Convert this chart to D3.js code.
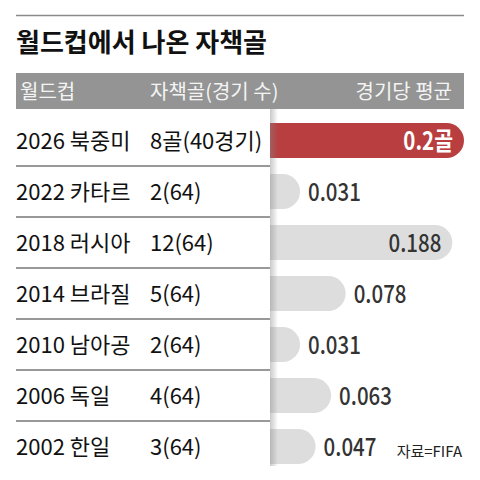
<!DOCTYPE html>
<html>
<head>
	<meta charset="utf-8">
	<title>월드컵에서 나온 자책골</title>
	<style>
		body { margin: 0; background: #fff; }
		svg { display: block; }
		.kr { font-family: 'Noto Sans CJK KR', sans-serif; }
	</style>
</head>
<body>
	<svg width="480" height="480"></svg>
<script src="https://d3js.org/d3.v7.min.js"></script>
<script>

	// data
	const cups = ['2026 북중미', '2022 카타르', '2018 러시아', '2014 브라질', '2010 남아공', '2006 독일', '2002 한일']
	const ownGoals = ['8골(40경기)', '2(64)', '12(64)', '5(64)', '2(64)', '4(64)', '3(64)']
	const perGame = [0.2, 0.031, 0.188, 0.078, 0.031, 0.063, 0.047]
	const valueLabels = ['0.2골', '0.031', '0.188', '0.078', '0.031', '0.063', '0.047']
	const headers = ['월드컵', '자책골(경기 수)', '경기당 평균']

	const left = 16, right = 464, barX = 270
	const barH = 35
	const squeeze = 0.82   // numbers in the original are narrow

	const svg = d3.select('svg')

	// shadow gradient for the table edge
	const grad = svg.append('defs').append('linearGradient')
		.attr('id', 'edge')
		.attr('x1', 0).attr('x2', 1).attr('y1', 0).attr('y2', 0)
	grad.append('stop').attr('offset', 0).attr('stop-color', '#888').attr('stop-opacity', 0.45)
	grad.append('stop').attr('offset', 1).attr('stop-color', '#888').attr('stop-opacity', 0)

	// top rule + title
	svg.append('line')
		.attr('x1', left).attr('x2', right)
		.attr('y1', 15.5).attr('y2', 15.5)
		.attr('stroke', '#8a8a8a').attr('stroke-width', 1.5)

	svg.append('text')
		.attr('class', 'kr')
		.attr('x', left).attr('y', 52)
		.attr('font-weight', 700)
		.attr('font-size', 26)
		.attr('fill', '#111')
		.text('월드컵에서 나온 자책골')

	// header band
	svg.append('rect')
		.attr('x', left).attr('y', 73)
		.attr('width', right - left).attr('height', 36)
		.attr('fill', '#939493')

	const hx = [left + 4, 150, right - 12]
	svg.selectAll('text.head')
		.data(headers)
		.join('text')
		.attr('class', 'head kr')
		.attr('x', (d, i) => hx[i])
		.attr('y', 99)
		.attr('text-anchor', (d, i) => i == 2 ? 'end' : 'start')
		.attr('font-size', 20)
		.attr('fill', '#f4f4f4')
		.text(d => d)

	// scales
	const y = d3.scaleBand()
		.domain(cups)
		.range([115, 115 + 51 * cups.length])

	const x = d3.scaleLinear()
		.domain([0, 0.2])
		.range([barX, right])

	const rows = svg.append('g')
		.selectAll('g')
		.data(cups)
		.join('g')
		.attr('transform', d => `translate(0, ${y(d) + y.bandwidth() / 2})`)

	// bars, flat at the left, round on the right
	rows.append('path')
		.attr('d', (d, i) => {
			let w = x(perGame[i]) - barX
			let r = Math.min(barH / 2, w)
			return `M${barX},${-barH / 2}H${barX + w - r}A${r},${barH / 2} 0 0 1 ${barX + w},0` +
				`A${r},${barH / 2} 0 0 1 ${barX + w - r},${barH / 2}H${barX}Z`
		})
		.attr('fill', (d, i) => i == 0 ? '#b83e40' : '#dcdddc')

	// separators between rows
	rows.filter((d, i) => i < cups.length - 1)
		.append('line')
		.attr('x1', left).attr('x2', barX)
		.attr('y1', y.bandwidth() / 2).attr('y2', y.bandwidth() / 2)
		.attr('stroke', '#333').attr('stroke-width', 1)

	rows.append('text')
		.attr('class', 'kr')
		.attr('x', left)
		.attr('y', 8)
		.attr('font-size', 22)
		.attr('fill', '#111')
		.text(d => d)

	rows.append('text')
		.attr('class', 'kr')
		.attr('x', 150)
		.attr('y', 8)
		.attr('font-size', 22)
		.attr('fill', '#111')
		.text((d, i) => ownGoals[i])

	// values: inside long bars, outside short ones
	rows.append('text')
		.attr('class', 'kr')
		.attr('transform', (d, i) => {
			let tx = perGame[i] > 0.15 ? x(perGame[i]) - 11 : x(perGame[i]) + 8
			return `translate(${tx}, 9) scale(${squeeze}, 1)`
		})
		.attr('text-anchor', (d, i) => perGame[i] > 0.15 ? 'end' : 'start')
		.attr('font-size', 25)
		.attr('font-weight', (d, i) => i == 0 ? 700 : 500)
		.attr('fill', (d, i) => i == 0 ? '#fff' : '#333')
		.text((d, i) => valueLabels[i])

	// table edge shadow
	svg.append('rect')
		.attr('x', barX).attr('y', 109)
		.attr('width', 8).attr('height', 357)
		.attr('fill', 'url(#edge)')

	svg.append('text')
		.attr('class', 'kr')
		.attr('x', 462).attr('y', 457)
		.attr('text-anchor', 'end')
		.attr('font-size', 15)
		.attr('fill', '#222')
		.text('자료=FIFA')

</script>
</body>
</html>
